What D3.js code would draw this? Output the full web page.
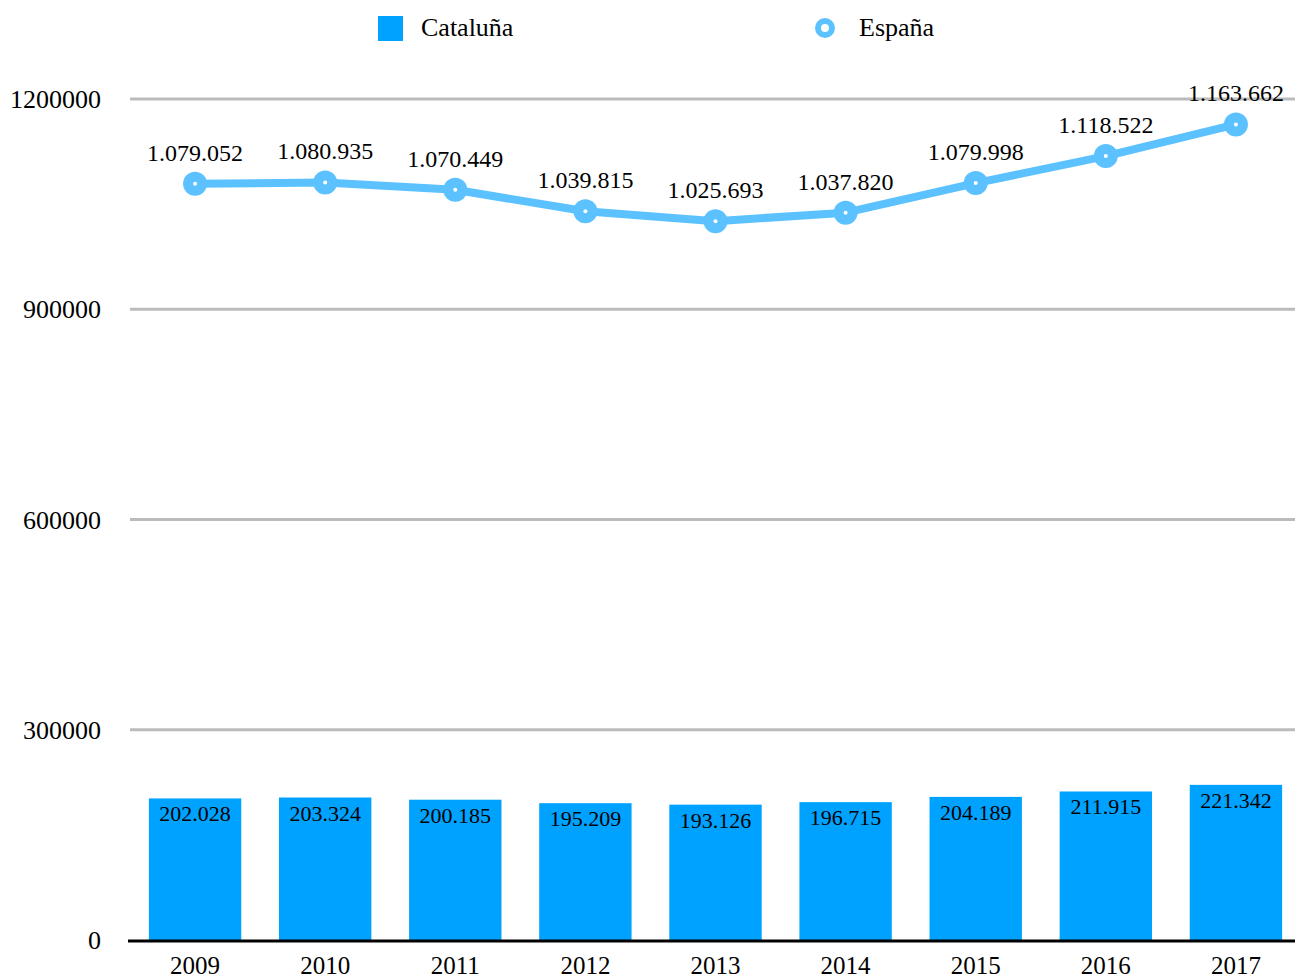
<!DOCTYPE html>
<html>
<head>
<meta charset="utf-8">
<script src="https://cdn.jsdelivr.net/npm/d3@7"></script>
<style>
  body { margin: 0; background: #fff; }
  text { font-family: "Liberation Serif", "Times New Roman", serif; fill: #000; }
</style>
</head>
<body>
<div id="vis-container"></div>
<script>
// data
let years = ["2009","2010","2011","2012","2013","2014","2015","2016","2017"];
let cataluna = [202028, 203324, 200185, 195209, 193126, 196715, 204189, 211915, 221342];
let espana = [1079052, 1080935, 1070449, 1039815, 1025693, 1037820, 1079998, 1118522, 1163662];
let yTicks = [0, 300000, 600000, 900000, 1200000];

let W = 1295, H = 978;
let barColor = "#00a2ff";
let lineColor = "#5bc2ff";

let svg = d3.select("#vis-container")
  .append("svg")
  .attr("width", W)
  .attr("height", H);

let x = d3.scaleBand()
  .domain(years)
  .range([130, 1301])
  .paddingInner(0.29)
  .paddingOuter(0.145);

let y = d3.scaleLinear()
  .domain([0, 1200000])
  .range([940, 99]);

// dots as thousand separators
let fmt = d3.formatLocale({decimal: ",", thousands: ".", grouping: [3], currency: ["", ""]}).format(",d");

// gridlines + y labels
let grid = svg.append("g");
grid.selectAll("line")
  .data(yTicks.filter(d => d > 0))
  .enter().append("line")
  .attr("x1", 130).attr("x2", W)
  .attr("y1", d => y(d)).attr("y2", d => y(d))
  .attr("stroke", "#bbbbbb")
  .attr("stroke-width", 3);

grid.selectAll("text")
  .data(yTicks)
  .enter().append("text")
  .attr("x", 101)
  .attr("y", d => y(d) + 9)
  .attr("text-anchor", "end")
  .attr("font-size", "26px")
  .text(d => d);

// bars
svg.selectAll("rect.bar")
  .data(cataluna)
  .enter().append("rect")
  .attr("class", "bar")
  .attr("x", (d, i) => x(years[i]))
  .attr("y", d => y(d))
  .attr("width", x.bandwidth())
  .attr("height", d => y(0) - y(d))
  .attr("fill", barColor);

svg.selectAll("text.bar-label")
  .data(cataluna)
  .enter().append("text")
  .attr("class", "bar-label")
  .attr("x", (d, i) => x(years[i]) + x.bandwidth() / 2)
  .attr("y", d => y(d) + 23)
  .attr("text-anchor", "middle")
  .attr("font-size", "22px")
  .text(d => fmt(d));

// x axis line
svg.append("line")
  .attr("x1", 128).attr("x2", W)
  .attr("y1", y(0) + 1).attr("y2", y(0) + 1)
  .attr("stroke", "#000")
  .attr("stroke-width", 3);

svg.selectAll("text.year")
  .data(years)
  .enter().append("text")
  .attr("class", "year")
  .attr("x", d => x(d) + x.bandwidth() / 2)
  .attr("y", 974)
  .attr("text-anchor", "middle")
  .attr("font-size", "25px")
  .text(d => d);

// España line
let line = d3.line()
  .x((d, i) => x(years[i]) + x.bandwidth() / 2)
  .y(d => y(d));

svg.append("path")
  .datum(espana)
  .attr("d", line)
  .attr("fill", "none")
  .attr("stroke", lineColor)
  .attr("stroke-width", 8)
  .attr("stroke-linejoin", "round");

let pts = svg.selectAll("g.pt")
  .data(espana)
  .enter().append("g")
  .attr("class", "pt")
  .attr("transform", (d, i) => `translate(${x(years[i]) + x.bandwidth() / 2},${y(d)})`);

pts.append("circle").attr("r", 12).attr("fill", lineColor);
pts.append("circle").attr("r", 2).attr("fill", "#fff");

pts.append("text")
  .attr("y", -23)
  .attr("text-anchor", "middle")
  .attr("font-size", "24px")
  .text(d => fmt(d));

// legend
let leg = svg.append("g");
leg.append("rect")
  .attr("x", 378).attr("y", 16)
  .attr("width", 25).attr("height", 25)
  .attr("fill", barColor);
leg.append("text")
  .attr("x", 421).attr("y", 36)
  .attr("font-size", "26px")
  .text("Cataluña");
leg.append("circle")
  .attr("cx", 825).attr("cy", 28)
  .attr("r", 7)
  .attr("fill", "#fff")
  .attr("stroke", lineColor)
  .attr("stroke-width", 6);
leg.append("text")
  .attr("x", 859).attr("y", 36)
  .attr("font-size", "26px")
  .text("España");
</script>
</body>
</html>
